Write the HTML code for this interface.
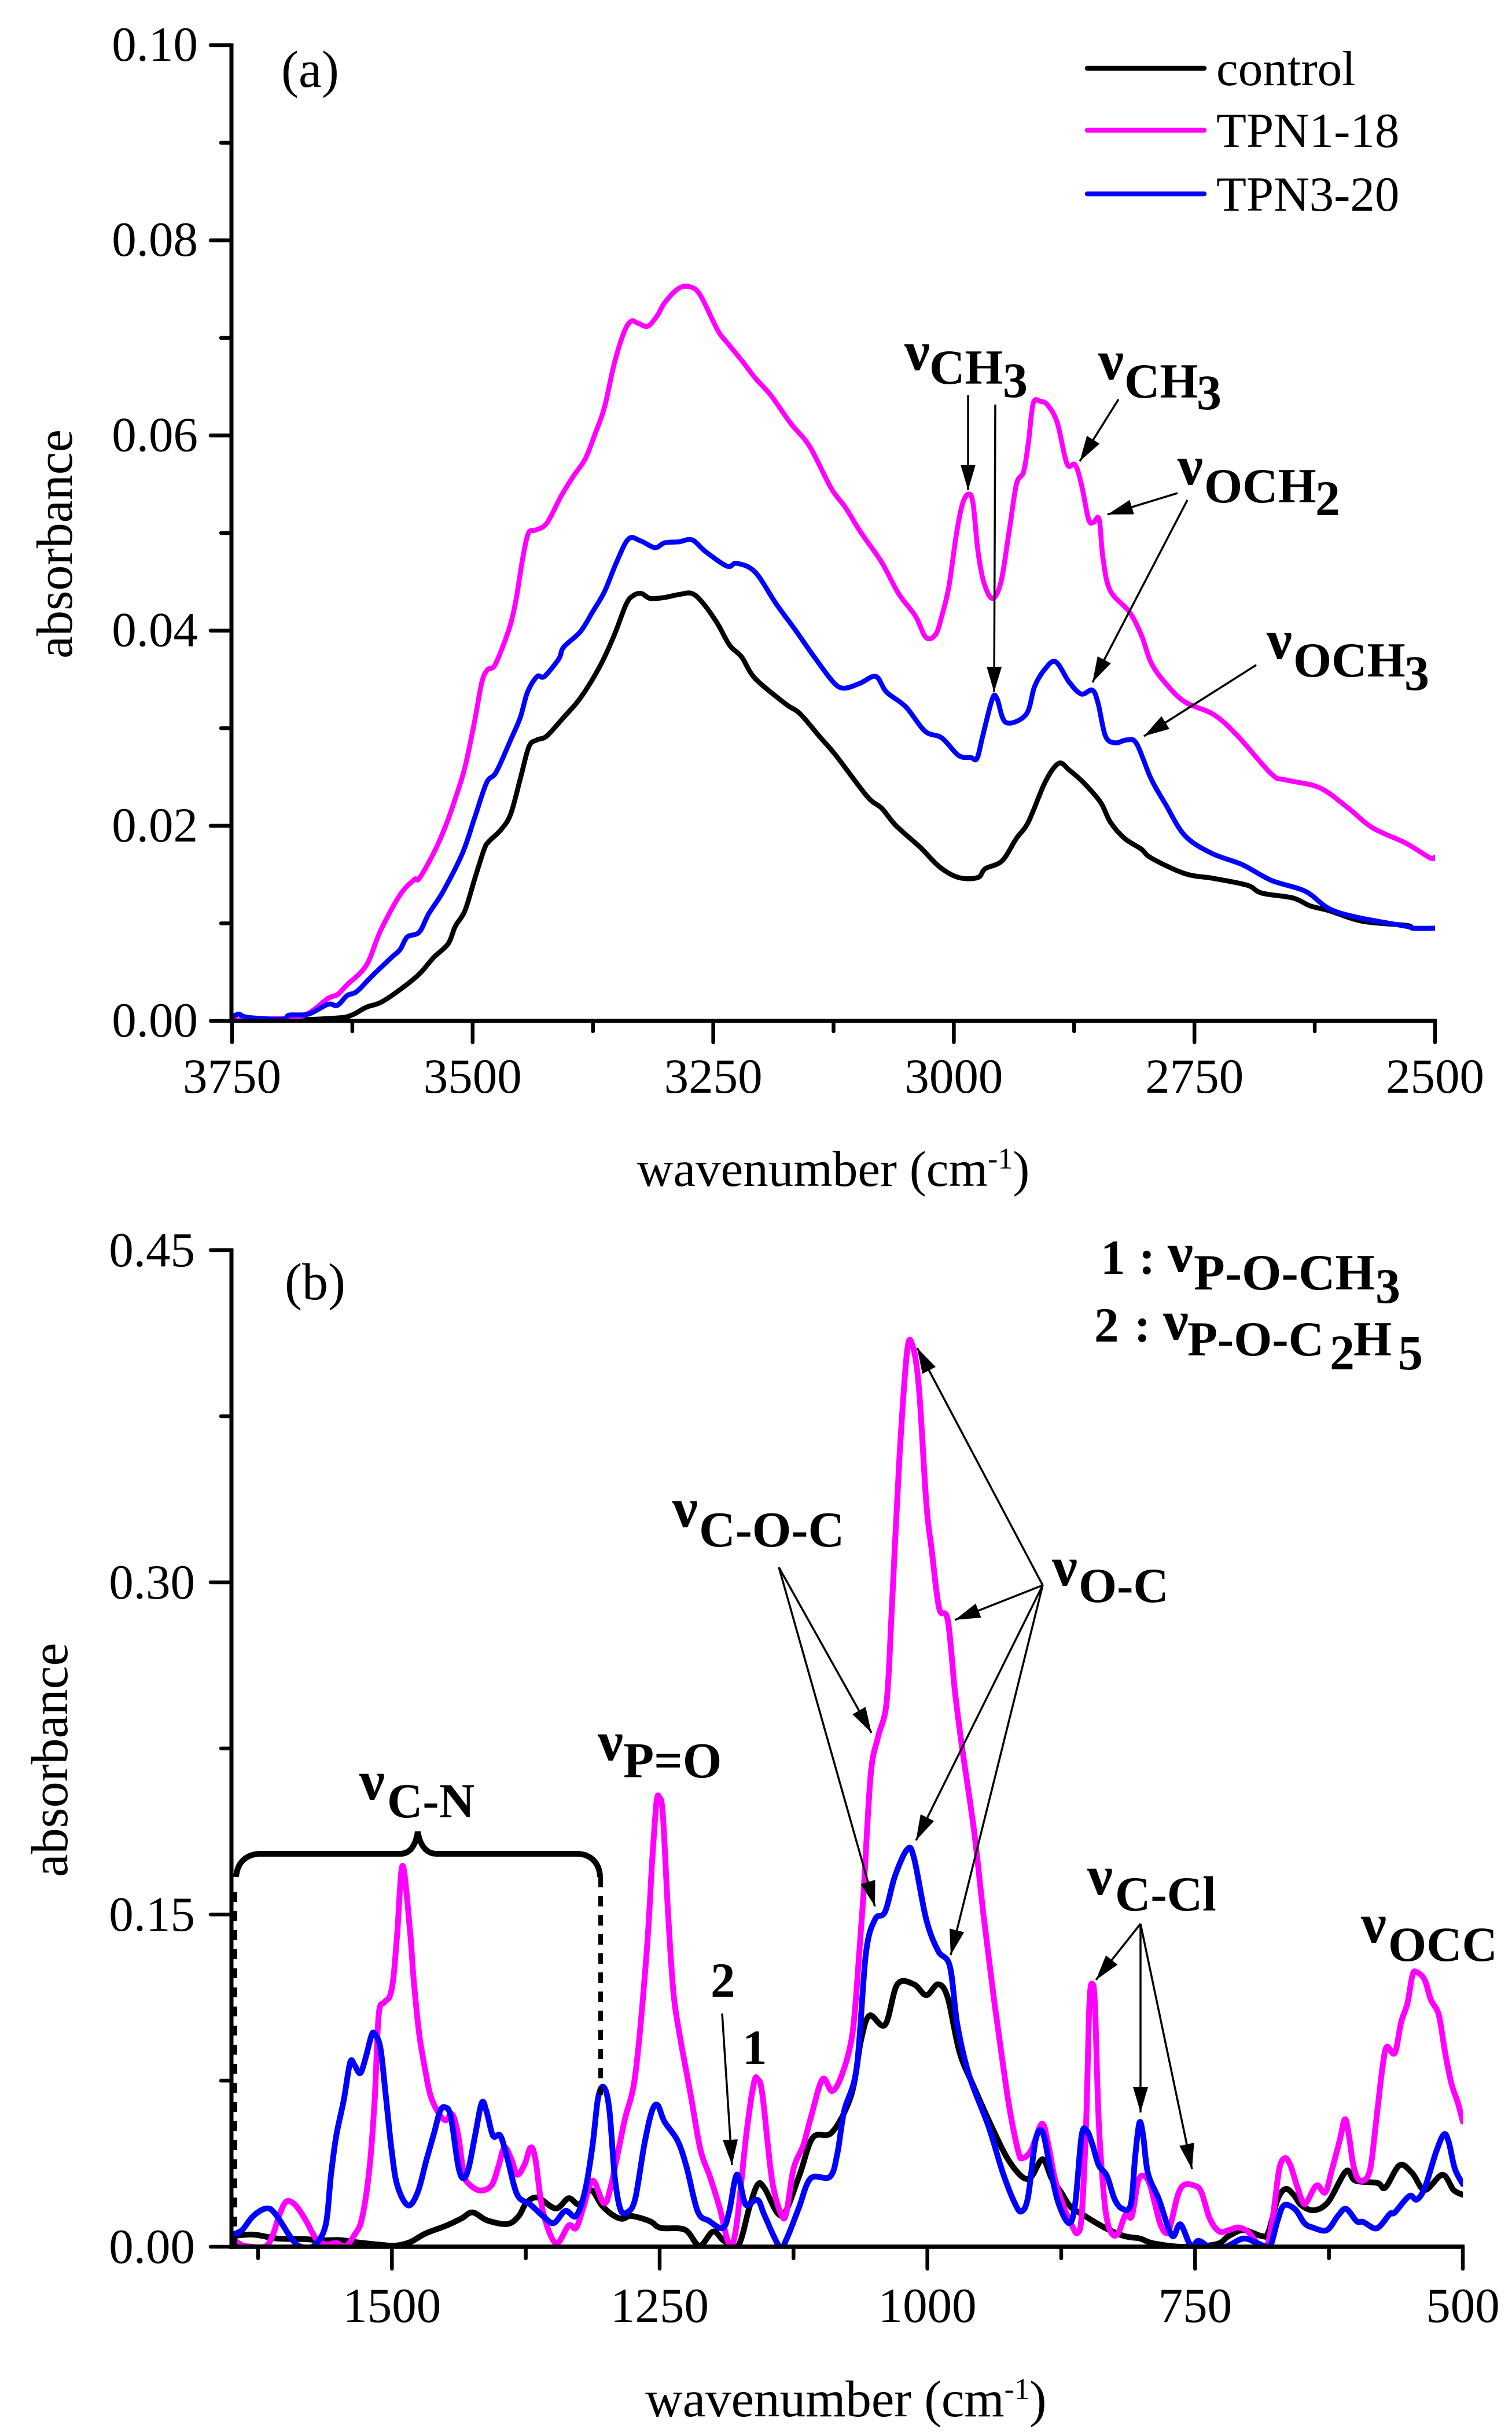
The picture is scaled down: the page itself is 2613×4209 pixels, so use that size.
<!DOCTYPE html>
<html lang="en">
<head>
<meta charset="utf-8">
<title>Absorbance spectra</title>
<style>
html,body{margin:0;padding:0;background:#fff;}
svg{display:block;}
text{font-family:"Liberation Serif",serif;fill:#000;}
.tick{font-size:85px;}
.title{font-size:87px;}
.nu{font-size:96px;font-weight:bold;transform:translateY(-4px);}
.sub{font-size:85px;font-weight:bold;}
.sub2{font-size:86px;font-weight:bold;}
.num{font-size:85px;font-weight:bold;}
.arrow{stroke:#000;stroke-width:3.5;fill:none;marker-end:url(#head);}
</style>
</head>
<body>
<svg id="fig" xmlns="http://www.w3.org/2000/svg" width="2613" height="4209" viewBox="0 0 2613 4209">
<defs>
<marker id="head" markerUnits="userSpaceOnUse" markerWidth="46" markerHeight="30" refX="44" refY="13" orient="auto">
<path d="M0,0 L44,13 L0,26 Z" fill="#000"/>
</marker>
<clipPath id="clipA"><rect x="401" y="78" width="2079" height="1686"/></clipPath>
<clipPath id="clipB"><rect x="401" y="2160" width="2127" height="1722"/></clipPath>
</defs>
<rect width="2613" height="4209" fill="#fff"/>

<g id="panelA"></g>
<g id="panelB"></g>

<!-- panel a static text -->
<text x="486" y="150" font-size="90">(a)</text>
<text transform="translate(124,940) rotate(-90)" text-anchor="middle" font-size="88">absorbance</text>
<text x="1440" y="2049" text-anchor="middle" class="title">wavenumber (cm<tspan dy="-30" font-size="52">-1</tspan><tspan dy="30">)</tspan></text>

<g>
<g>
<line x1="1879" y1="118" x2="2081" y2="118" stroke="#000" stroke-width="8.5" stroke-linecap="round"/>
<text x="2102" y="147" class="tick">control</text>
</g>
<g>
<line x1="1879" y1="225" x2="2081" y2="225" stroke="#ff00ff" stroke-width="8.5" stroke-linecap="round"/>
<text x="2102" y="254" class="tick">TPN1-18</text>
</g>
<g>
<line x1="1879" y1="335" x2="2081" y2="335" stroke="#0000ff" stroke-width="8.5" stroke-linecap="round"/>
<text x="2102" y="364" class="tick">TPN3-20</text>
</g>
</g>

<g>
<text x="1563" y="643" class="nu" textLength="44" lengthAdjust="spacingAndGlyphs">ν</text><text x="1606" y="663" class="sub">CH</text><text x="1733" y="686" class="sub2">3</text>
</g>
<g>
<text x="1898" y="659" class="nu" textLength="44" lengthAdjust="spacingAndGlyphs">ν</text><text x="1943" y="687" class="sub">CH</text><text x="2068" y="707" class="sub2">3</text>
</g>
<g>
<text x="2035" y="841" class="nu" textLength="44" lengthAdjust="spacingAndGlyphs">ν</text><text x="2081" y="868" class="sub">OCH</text><text x="2273" y="890" class="sub2">2</text>
</g>
<g>
<text x="2189" y="1142" class="nu" textLength="44" lengthAdjust="spacingAndGlyphs">ν</text><text x="2235" y="1169" class="sub">OCH</text><text x="2427" y="1192" class="sub2">3</text>
</g>
<g>
<line class="arrow" x1="1673" y1="683" x2="1673" y2="847"/>
<line class="arrow" x1="1720" y1="699" x2="1718" y2="1196"/>
<line class="arrow" x1="1933" y1="690" x2="1866" y2="797"/>
<line class="arrow" x1="2035" y1="852" x2="1914" y2="889"/>
<line class="arrow" x1="2052" y1="864" x2="1888" y2="1179"/>
<line class="arrow" x1="2171" y1="1149" x2="1977" y2="1272"/>
</g>

<!-- panel b static text -->
<text x="492" y="2245" font-size="90">(b)</text>
<text transform="translate(116,3041) rotate(-90)" text-anchor="middle" font-size="90">absorbance</text>
<text x="1462" y="4175" text-anchor="middle" font-size="89">wavenumber (cm<tspan dy="-30" font-size="52">-1</tspan><tspan dy="30">)</tspan></text>

<g>
<text x="1902" y="2201" class="num">1</text><text x="1968" y="2201" class="num">:</text>
<text x="2018" y="2201" class="nu" textLength="44" lengthAdjust="spacingAndGlyphs">ν</text><text x="2063" y="2228" class="sub" style="font-size:88px">P-O-CH</text><text x="2377" y="2251" class="sub2">3</text>
</g>
<g>
<text x="1891" y="2318" class="num">2</text><text x="1960" y="2318" class="num">:</text>
<text x="2010" y="2318" class="nu" textLength="44" lengthAdjust="spacingAndGlyphs">ν</text><text x="2052" y="2342" class="sub">P-O-C</text><text x="2298" y="2366" class="sub2">2</text><text x="2339" y="2342" class="sub">H</text><text x="2416" y="2366" class="sub2">5</text>
</g>
<g>
<text x="621" y="3113" class="nu" textLength="44" lengthAdjust="spacingAndGlyphs">ν</text><text x="669" y="3140" class="sub">C-N</text>
</g>
<g>
<text x="1033" y="3045" class="nu" textLength="44" lengthAdjust="spacingAndGlyphs">ν</text><text x="1077" y="3071" class="sub" style="font-size:87px">P=O</text>
</g>
<g>
<text x="1162" y="2642" class="nu" textLength="44" lengthAdjust="spacingAndGlyphs">ν</text><text x="1208" y="2672" class="sub" style="font-size:87px">C-O-C</text>
</g>
<g>
<text x="1818" y="2743" class="nu" textLength="44" lengthAdjust="spacingAndGlyphs">ν</text><text x="1864" y="2768" class="sub">O-C</text>
</g>
<g>
<text x="1879" y="3277" class="nu" textLength="44" lengthAdjust="spacingAndGlyphs">ν</text><text x="1927" y="3301" class="sub">C-Cl</text>
</g>
<g>
<text x="2352" y="3360" class="nu" textLength="44" lengthAdjust="spacingAndGlyphs">ν</text><text x="2399" y="3388" class="sub">OCC</text>
</g>
<text x="1228" y="3450" class="num">2</text>
<text x="1283" y="3566" class="num">1</text>

<g fill="none" stroke="#000">
<path d="M408,3243 C410,3218 425,3203 452,3203 L692,3203 C708,3203 718,3190 722,3165 C726,3190 738,3203 754,3203 L996,3203 C1020,3203 1036,3218 1037,3243" stroke-width="10"/>
<line x1="406" y1="3269" x2="406" y2="3882" stroke-width="8" stroke-dasharray="17 16"/>
<line x1="1038" y1="3243" x2="1038" y2="3620" stroke-width="8" stroke-dasharray="18 15"/>
</g>
<g>
<line class="arrow" x1="1248" y1="3479" x2="1265" y2="3741"/>
<line class="arrow" x1="1346" y1="2708" x2="1506" y2="2994"/>
<line class="arrow" x1="1346" y1="2708" x2="1512" y2="3294"/>
<line class="arrow" x1="1802" y1="2739" x2="1585" y2="2329"/>
<line class="arrow" x1="1802" y1="2739" x2="1650" y2="2799"/>
<line class="arrow" x1="1802" y1="2739" x2="1583" y2="3180"/>
<line class="arrow" x1="1802" y1="2739" x2="1643" y2="3378"/>
<line class="arrow" x1="1971" y1="3324" x2="1894" y2="3421"/>
<line class="arrow" x1="1971" y1="3324" x2="1971" y2="3650"/>
<line class="arrow" x1="1971" y1="3324" x2="2060" y2="3748"/>
</g>
</svg>

<script>
// ---------- Panel (a) data ----------
const aXMajor = [3750,3500,3250,3000,2750,2500];
const aXMajorLabels = ["3750","3500","3250","3000","2750","2500"];
const aXMinor = [3625,3375,3125,2875,2625];
const aYMajor = [0,0.02,0.04,0.06,0.08,0.10];
const aYMajorLabels = ["0.00","0.02","0.04","0.06","0.08","0.10"];
const aYMinor = [0.01,0.03,0.05,0.07,0.09];

const aControlWn = [3750,3690.5,3640.5,3625.5,3610.5,3595.5,3575.5,3555.5,3540.5,3525.5,3518,3508,3498,3488,3483,3470.5,3460.5,3450.5,3441.5,3433,3423,3405.5,3388,3368,3353,3340.5,3333,3324.5,3315.5,3300.5,3285.5,3272,3260.5,3245.5,3233,3220.5,3206.5,3175,3160,3140,3122.5,3090,3075,3060,3035,3015,2995,2975,2967.5,2950,2935,2922.5,2905,2891,2880,2865,2847.5,2837.5,2822.5,2805,2795,2760,2730,2695,2680,2647.5,2630,2610,2575,2530,2522.5,2500];
const aControlAbs = [.0001,.0001,.0003,.0006,.0014,.0019,.0032,.0048,.0065,.0079,.0097,.0113,.0145,.0176,.0184,.0196,.0212,.0248,.0281,.0288,.0292,.0311,.0331,.0363,.0395,.0427,.0436,.0438,.0433,.0434,.0437,.0438,.0428,.0407,.0385,.0373,.0351,.0325,.0315,.0292,.0272,.0230,.0218,.0200,.0178,.0158,.0147,.0147,.0156,.0164,.0187,.0204,.0245,.0264,.0257,.0244,.0224,.0204,.0187,.0176,.0167,.0151,.0146,.0139,.0131,.0126,.0118,.0113,.0102,.0098,.0095,.0095];

const aTpn118Wn = [3750,3690.5,3670.5,3650.5,3640.5,3630.5,3610.5,3595.5,3575.5,3560.5,3555.5,3540.5,3528,3518,3508,3498,3490.5,3484.5,3478,3470.5,3460.5,3454.5,3448,3442,3434.5,3423,3408,3395.5,3383,3373,3363,3353,3343,3335.5,3328,3318,3308,3300.5,3285.5,3273,3263,3245.5,3235.5,3220.5,3206.5,3190,3170,3150,3127.5,3112.5,3097.5,3075,3057.5,3040,3029,3019,3012.5,3005,2997.5,2991,2984.5,2980,2975,2969,2960,2951,2942.5,2935,2927.5,2922.5,2917.5,2910,2902.5,2892.5,2882.5,2874,2867.5,2860,2855,2849,2845,2837.5,2817.5,2805,2795,2780,2760,2730,2705,2670,2655,2620,2590,2565,2530,2505,2500];
const aTpn118Abs = [.0001,.0003,.0008,.0023,.0027,.0037,.0057,.0093,.0129,.0145,.0146,.0172,.0200,.0228,.0260,.0307,.0347,.0360,.0363,.0379,.0407,.0434,.0474,.0500,.0503,.0510,.0538,.0558,.0576,.0601,.0629,.0673,.0705,.0717,.0715,.0712,.0723,.0736,.0751,.0752,.0743,.0708,.0695,.0677,.0659,.0641,.0613,.0589,.0546,.0526,.0502,.0470,.0438,.0415,.0393,.0396,.0415,.0446,.0498,.0530,.0540,.0530,.0482,.0450,.0433,.0450,.0502,.0550,.0563,.0593,.0633,.0635,.0631,.0613,.0571,.0570,.0550,.0514,.0511,.0514,.0474,.0441,.0419,.0395,.0367,.0346,.0327,.0314,.0292,.0253,.0247,.0239,.0218,.0198,.0182,.0167,.0168];

const aTpn320Wn = [3750,3743,3735.5,3710.5,3695.5,3690.5,3670.5,3650.5,3640.5,3630.5,3620.5,3605.5,3585.5,3575.5,3568,3555.5,3545.5,3530.5,3510.5,3498,3485.5,3475.5,3460.5,3450.5,3443,3433,3425.5,3410.5,3405.5,3388,3375.5,3363,3350.5,3338,3325.5,3310.5,3300.5,3285.5,3272,3258,3235.5,3225.5,3206.5,3185,3165,3145,3125,3114,3097.5,3081,3070,3050,3030,3012.5,2995,2982.5,2976,2970,2960,2955,2946,2925,2916,2905,2894,2880,2867.5,2856,2850,2842.5,2832.5,2820,2810,2795,2780,2760,2732.5,2700,2670,2635,2610,2580,2530,2522.5,2500];
const aTpn320Abs = [.0004,.0007,.0004,.0002,.0002,.0006,.0007,.0017,.0016,.0026,.0030,.0045,.0064,.0073,.0086,.0091,.0110,.0133,.0172,.0208,.0244,.0255,.0288,.0311,.0337,.0353,.0353,.0371,.0383,.0399,.0419,.0440,.0470,.0494,.0492,.0485,.0490,.0491,.0493,.0481,.0466,.0469,.0460,.0428,.0401,.0373,.0347,.0341,.0346,.0353,.0337,.0322,.0297,.0290,.0272,.0270,.0269,.0292,.0330,.0330,.0306,.0314,.0343,.0361,.0368,.0347,.0335,.0339,.0325,.0292,.0285,.0288,.0284,.0248,.0222,.0190,.0172,.0160,.0144,.0133,.0115,.0106,.0097,.0095,.0095];

// ---------- Panel (b) data ----------
const bXMajor = [1500,1250,1000,750,500];
const bXMajorLabels = ["1500","1250","1000","750","500"];
const bXMinor = [1625,1375,1125,875,625];
const bYMajor = [0,0.15,0.30,0.45];
const bYMajorLabels = ["0.00","0.15","0.30","0.45"];
const bYMinor = [0.075,0.225,0.375];

const bControlWn = [1649,1629.5,1607,1583,1566,1548.6,1531,1510.7,1497,1483,1469,1449,1435,1424.6,1411,1392,1381.5,1374.6,1364,1347,1335,1325,1314.4,1304,1294,1285,1276.5,1259,1249,1226.5,1212.8,1200,1190,1176.6,1166,1158.4,1152,1136,1120,1107,1089,1071,1062,1054,1039.5,1028,1012.6,1001,990,981,970,956.5,938.5,925,911.6,903,892.4,884,875,866.4,854.6,834,816,801.4,789.6,763,730.5,718.7,705,687.6,681.7,673,665.5,658,650.7,639,625.6,609,600.5,579.8,572.4,559,547,535.5,519,508.6,500];
const bControlAbs = [.0048,.0055,.0037,.0035,.0029,.0030,.0019,.0009,.0005,.0021,.0059,.0096,.0128,.0155,.0119,.0103,.0139,.0197,.0222,.0173,.0219,.0192,.0256,.0187,.0144,.0126,.0139,.0115,.0085,.0077,.0005,.0069,.0027,.0005,.0181,.0281,.0264,.0141,.0316,.0492,.0517,.0686,.0932,.1044,.1002,.1185,.1185,.1136,.1185,.1125,.0879,.0721,.0527,.0397,.0316,.0316,.0395,.0309,.0245,.0181,.0144,.0085,.0048,.0037,.0016,0,.0011,.0048,.0075,.0048,.0064,.0213,.0261,.0235,.0187,.0165,.0203,.0341,.0299,.0288,.0267,.0368,.0331,.0256,.0325,.0256,.0235];

const bTpn118Wn = [1649,1641.5,1634.7,1619,1612,1605.4,1600,1595,1588,1579.6,1571,1562,1552,1543.4,1535,1528,1521,1516,1512.4,1507,1502,1498.6,1495,1490,1483,1479.7,1474.5,1469,1464,1457,1450,1443.5,1438,1433,1428,1417.7,1407,1400.5,1395,1388.4,1383,1376,1370.5,1366,1359,1347,1335,1328,1321,1312.6,1302,1295.4,1283,1272.7,1262.3,1257,1253,1250.4,1247,1242,1237,1230.4,1221,1212,1203,1194,1185,1178.5,1169,1162,1158.4,1154,1145,1136,1131.5,1125,1116,1109,1098,1089,1080,1071,1066.4,1060,1053,1046,1038,1033,1026,1019,1014,1008,1001,996,989,981,974.4,968,956.5,947.5,938.5,929.5,923,915,911,903,893,887,881,872,865,860,856,851.7,848.7,845.7,843.4,840,835,831,826,821,815,809,803,797,792,788,782,776,772,766,760,750,744,736.4,727.5,718.7,709.8,701,690.6,683,677,671.4,666,661,655,649,645,636.5,628.5,622.6,615,610,606,602,596,587,581,575,571,563.5,557.6,551.7,547,543,535.7,529.8,522.4,516.5,510.6,504.7,500];
const bTpn118Abs = [.0037,.0011,.0002,0,.0043,.0139,.0197,.0205,.0176,.0112,.0037,.0011,.0017,.0002,.0053,.0128,.0352,.0672,.1046,.1104,.1131,.1216,.1419,.172,.1419,.1206,.0960,.0800,.0683,.0608,.0571,.0597,.0501,.0331,.0283,.0254,.0277,.0363,.0448,.0395,.0325,.0373,.0448,.0395,.0160,.0016,.0096,.0085,.0181,.0299,.0197,.0277,.0565,.0779,.1319,.174,.2004,.2029,.1951,.1494,.1143,.0932,.0686,.0440,.0316,.0176,.0011,.0088,.0510,.0738,.0756,.0686,.0299,.0141,.0158,.0352,.0457,.0580,.0756,.0703,.0774,.0932,.1143,.1565,.2127,.2303,.2461,.2901,.3569,.4040,.4070,.3885,.3358,.3147,.2883,.2831,.2514,.2268,.1881,.1494,.1143,.0826,.0615,.0427,.0400,.0437,.0555,.0459,.0309,.0171,.0096,.0062,.0139,.0565,.1099,.1186,.1078,.0565,.0224,.0096,.0051,.0069,.0144,.0139,.0299,.0318,.0277,.0203,.0096,.0062,.0117,.0235,.0280,.0275,.0245,.0128,.0069,.0075,.0087,.0069,.0011,0,.0149,.0352,.0400,.0368,.0277,.0197,.0208,.0277,.0245,.0341,.0480,.0576,.0491,.0363,.0299,.0341,.0565,.0811,.0902,.0875,.1014,.1099,.1227,.1240,.1206,.1115,.1046,.0875,.0736,.0651,.0565];

const bTpn320Wn = [1649,1640,1629.5,1617.4,1609,1593,1584.7,1572.7,1562,1557,1552,1545,1539,1535,1529.6,1524.5,1519,1516,1510.7,1505.5,1500.3,1495,1485,1476,1467.6,1460.7,1455,1450,1445,1438,1433,1428,1422,1416,1411.5,1405.6,1398.7,1392,1383,1371,1359,1349,1338,1328,1319.5,1312.6,1307.5,1302,1297,1292,1286.8,1280.6,1273,1264.4,1257.5,1252,1245.5,1233.4,1225,1214.5,1204,1191,1185,1178,1171.4,1168,1158.4,1152,1138,1131.5,1120,1109,1091,1084,1077.6,1066,1057.5,1049,1039.5,1030.5,1019,1012.6,1001,990,979,972,961,943,929.5,918,912,906,899,892.4,885.6,878,868,862,856,851,845.7,840,832.4,825,817.7,810,806,802,798.5,794,783.7,775,770,763.6,754,746.7,736.4,721.6,705,692,683,679,673,667,656.6,648,640.4,627,616.7,609,599,593,582.7,576.8,568,563.5,550,543,535.5,525,517.8,513.3,507.4,500];
const bTpn320Abs = [.0055,.0075,.0139,.0173,.0149,.0032,0,.0005,.0096,.0320,.0501,.0661,.0832,.0821,.0784,.0854,.0955,.0960,.0896,.0672,.0437,.0277,.0187,.0245,.0395,.0512,.0613,.0629,.0587,.0363,.0309,.0363,.0512,.0651,.0608,.0501,.0501,.0395,.0235,.0192,.0139,.0107,.0162,.0139,.0256,.0459,.0672,.0720,.0619,.0320,.0171,.0155,.0213,.0459,.0608,.0640,.0565,.0480,.0363,.0160,.0117,.0085,.0160,.0325,.0213,.0187,.0211,.0141,0,.0035,.0176,.0309,.0316,.0422,.0615,.0809,.1319,.1477,.1512,.1670,.1793,.1758,.1477,.1336,.1266,.1002,.0774,.0545,.0334,.0193,.0160,.0224,.0480,.0517,.0363,.0203,.0107,.0192,.0501,.0523,.0459,.0368,.0320,.0213,.0171,.0192,.0405,.0560,.0501,.0331,.0213,.0085,.0048,.0101,.0005,.0027,0,0,.0037,.0016,0,.0011,.0117,.0187,.0169,.0107,.0087,.0075,.0139,.0171,.0115,.0112,.0083,.0096,.0149,.0155,.0229,.0213,.0267,.0427,.0507,.0475,.0352,.0283];

// ---------- Axis functions ----------
const aX = v => 401 + (3750 - v) / 1250 * 2079;
const aY = v => 1764 - v / 0.10 * 1686;
const bX = v => 2528 - (v - 500) * 1.8507;
const bY = v => 3882 - v / 0.45 * 1722;

const NS = 'http://www.w3.org/2000/svg';
function mk(tag, parent, attrs, txt) {
  const el = document.createElementNS(NS, tag);
  for (const k in attrs) el.setAttribute(k, attrs[k]);
  if (txt !== undefined) el.textContent = txt;
  parent.appendChild(el);
  return el;
}
function smoothPath(xs, ys, fx, fy) {
  const px = xs.map(fx), py = ys.map(fy);
  let d = 'M' + px[0].toFixed(1) + ',' + py[0].toFixed(1);
  for (let i = 0; i < px.length - 1; i++) {
    const i0 = Math.max(i - 1, 0), i3 = Math.min(i + 2, px.length - 1);
    const c1x = px[i] + (px[i + 1] - px[i0]) / 6;
    const c1y = py[i] + (py[i + 1] - py[i0]) / 6;
    const c2x = px[i + 1] - (px[i3] - px[i]) / 6;
    const c2y = py[i + 1] - (py[i3] - py[i]) / 6;
    d += 'C' + c1x.toFixed(1) + ',' + c1y.toFixed(1) + ' ' + c2x.toFixed(1) + ',' + c2y.toFixed(1) + ' ' + px[i + 1].toFixed(1) + ',' + py[i + 1].toFixed(1);
  }
  return d;
}

// ---------- Panel (a) ----------
const gA = document.getElementById('panelA');
const aCurves = mk('g', gA, {'clip-path': 'url(#clipA)', fill: 'none', 'stroke-linejoin': 'round', 'stroke-linecap': 'round', 'stroke-width': 8.5});


const aLine1 = mk('path', aCurves, {d: smoothPath(aControlWn, aControlAbs, aX, aY), stroke: '#000000'});


const aLine2 = mk('path', aCurves, {d: smoothPath(aTpn118Wn, aTpn118Abs, aX, aY), stroke: '#ff00ff'});


const aLine3 = mk('path', aCurves, {d: smoothPath(aTpn320Wn, aTpn320Abs, aX, aY), stroke: '#0000ff'});



const aAxes = mk('g', gA, {stroke: '#000', fill: 'none'});


const aYAxis = mk('line', aAxes, {x1: 400, y1: aY(0.10) - 3, x2: 400, y2: aY(0) + 4, 'stroke-width': 7});


const aXAxis = mk('line', aAxes, {x1: 397, y1: aY(0), x2: aX(2500) + 3, y2: aY(0), 'stroke-width': 7});


aXMajor.forEach((v, i) => {
  const t = mk('line', aAxes, {x1: aX(v), y1: aY(0), x2: aX(v), y2: aY(0) + 37, 'stroke-width': 6.5, 'stroke-linecap': 'round'});
  
  
  const l = mk('text', gA, {x: aX(v), y: 1888, 'text-anchor': 'middle', class: 'tick'}, aXMajorLabels[i]);
  
  
});
aXMinor.forEach(v => {
  const t = mk('line', aAxes, {x1: aX(v), y1: aY(0), x2: aX(v), y2: aY(0) + 18, 'stroke-width': 6.5, 'stroke-linecap': 'round'});
  
  
});
aYMajor.forEach((v, i) => {
  const t = mk('line', aAxes, {x1: 364, y1: aY(v), x2: 400, y2: aY(v), 'stroke-width': 6.5, 'stroke-linecap': 'round'});
  
  
  const l = mk('text', gA, {x: 342, y: aY(v) + 27, 'text-anchor': 'end', class: 'tick'}, aYMajorLabels[i]);
  
  
});
aYMinor.forEach(v => {
  const t = mk('line', aAxes, {x1: 382, y1: aY(v), x2: 400, y2: aY(v), 'stroke-width': 6.5, 'stroke-linecap': 'round'});
  
  
});

// ---------- Panel (b) ----------
const gB = document.getElementById('panelB');
const bCurves = mk('g', gB, {'clip-path': 'url(#clipB)', fill: 'none', 'stroke-linejoin': 'round', 'stroke-linecap': 'round', 'stroke-width': 10});


const bLine1 = mk('path', bCurves, {d: smoothPath(bControlWn, bControlAbs, bX, bY), stroke: '#000000'});


const bLine2 = mk('path', bCurves, {d: smoothPath(bTpn118Wn, bTpn118Abs, bX, bY), stroke: '#ff00ff'});


const bLine3 = mk('path', bCurves, {d: smoothPath(bTpn320Wn, bTpn320Abs, bX, bY), stroke: '#0000ff'});



const bAxes = mk('g', gB, {stroke: '#000', fill: 'none'});


const bYAxis = mk('line', bAxes, {x1: 400, y1: bY(0.45) - 3, x2: 400, y2: bY(0) + 4, 'stroke-width': 7});


const bXAxis = mk('line', bAxes, {x1: 397, y1: bY(0), x2: bX(500) + 3, y2: bY(0), 'stroke-width': 7.5});


bXMajor.forEach((v, i) => {
  const t = mk('line', bAxes, {x1: bX(v), y1: bY(0), x2: bX(v), y2: bY(0) + 38, 'stroke-width': 6.5, 'stroke-linecap': 'round'});
  
  
  const l = mk('text', gB, {x: bX(v), y: 4012, 'text-anchor': 'middle', class: 'tick'}, bXMajorLabels[i]);
  
  
});
bXMinor.forEach(v => {
  const t = mk('line', bAxes, {x1: bX(v), y1: bY(0), x2: bX(v), y2: bY(0) + 20, 'stroke-width': 6.5, 'stroke-linecap': 'round'});
  
  
});
bYMajor.forEach((v, i) => {
  const t = mk('line', bAxes, {x1: 364, y1: bY(v), x2: 400, y2: bY(v), 'stroke-width': 6.5, 'stroke-linecap': 'round'});
  
  
  const l = mk('text', gB, {x: 337, y: bY(v) + 28, 'text-anchor': 'end', class: 'tick'}, bYMajorLabels[i]);
  
  
});
bYMinor.forEach(v => {
  const t = mk('line', bAxes, {x1: 382, y1: bY(v), x2: 400, y2: bY(v), 'stroke-width': 6.5, 'stroke-linecap': 'round'});
  
  
});
</script>
</body>
</html>
